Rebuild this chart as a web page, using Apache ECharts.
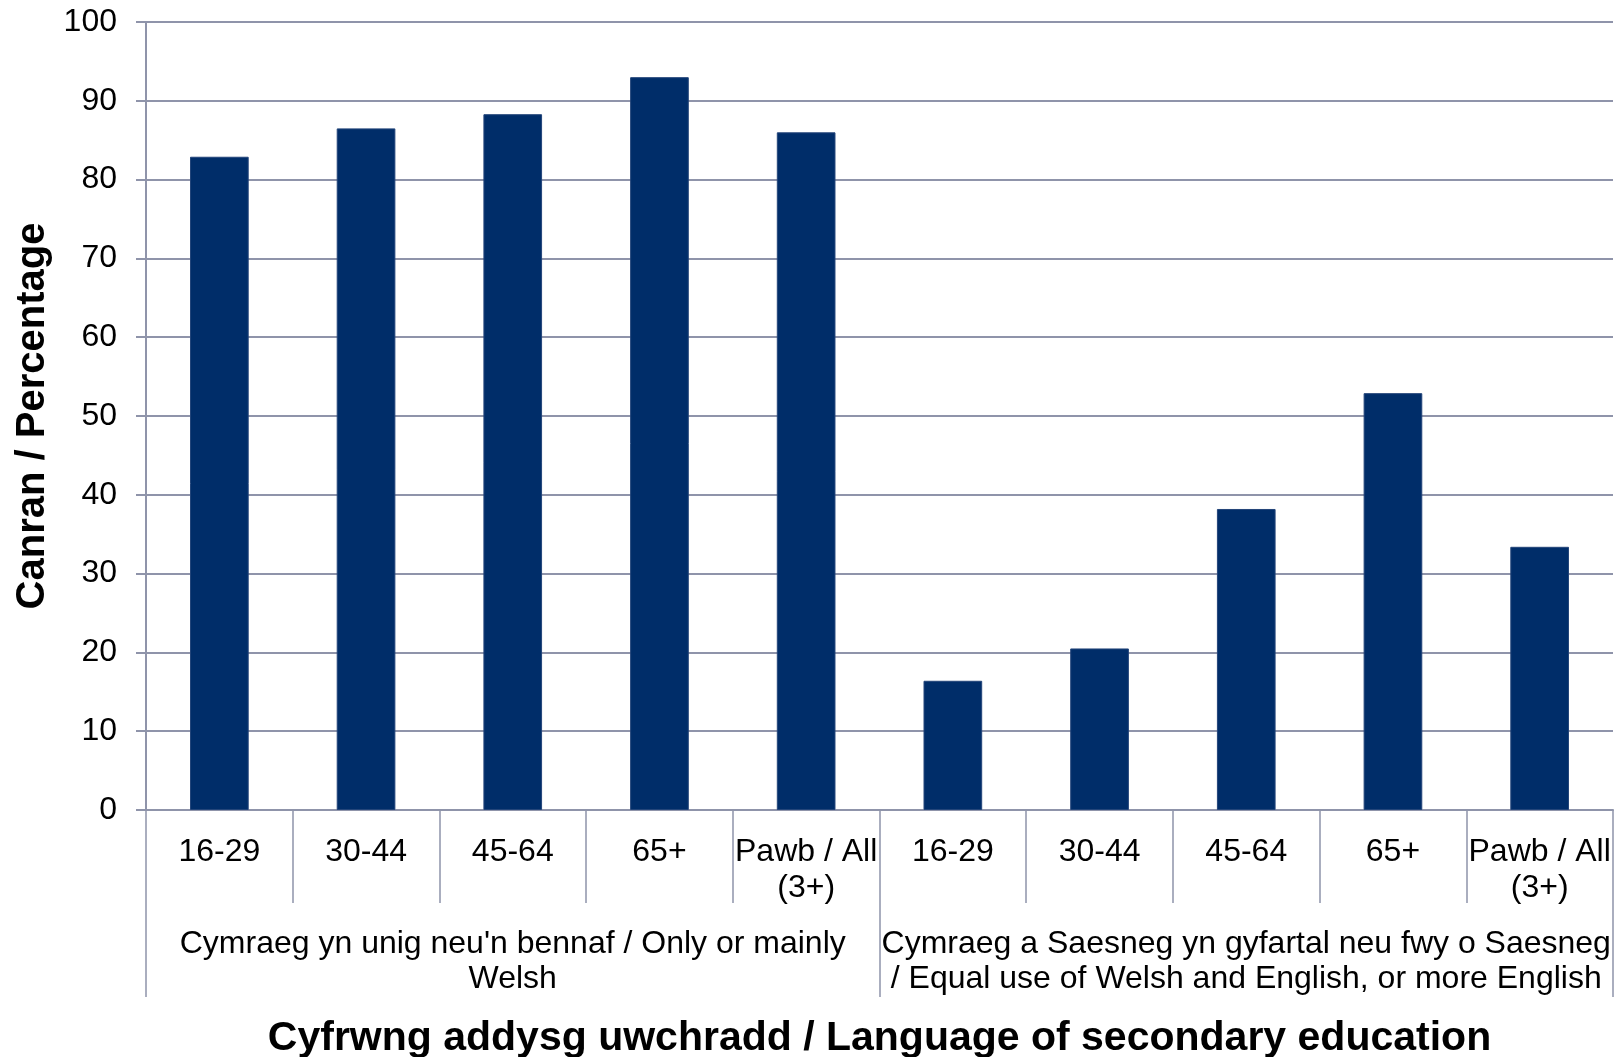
<!DOCTYPE html>
<html>
<head>
<meta charset="utf-8">
<script src="https://cdn.jsdelivr.net/npm/echarts@6/dist/echarts.min.js"></script>
<style>
  html, body { margin: 0; padding: 0; background: #ffffff; }
  #chart { width: 1614px; height: 1057px; }
</style>
</head>
<body>
<div id="chart"></div>
<script>
// Age bands, repeated for each language-of-education group
const ageBands = ['16-29', '30-44', '45-64', '65+', 'Pawb / All\n(3+)',
                  '16-29', '30-44', '45-64', '65+', 'Pawb / All\n(3+)'];
// Language-of-education groups (each spans five age bands)
const groups = [
  "Cymraeg yn unig neu'n bennaf / Only or mainly\nWelsh",
  'Cymraeg a Saesneg yn gyfartal neu fwy o Saesneg\n/ Equal use of Welsh and English, or more English'
];
// Percentage values, one per age band
const percentages = [82.9, 86.5, 88.3, 93.0, 86.0, 16.4, 20.5, 38.2, 52.9, 33.4];
// Value-axis range
const yMin = 0, yMax = 100, yStep = 10;

const font = "'Liberation Sans', Arial, sans-serif";
const lineGray = '#8f94aa';

const chart = echarts.init(document.getElementById('chart'));
chart.setOption({
  animation: false,
  grid: { left: 146, right: 1, top: 22, bottom: 247, containLabel: false, outerBoundsMode: 'none' },
  xAxis: [
    {
      type: 'category',
      data: ageBands,
      position: 'bottom',
      axisLine: { show: true, onZero: false, lineStyle: { color: lineGray, width: 2 } },
      axisTick: { show: true, alignWithLabel: false, interval: 0, length: 93,
                  lineStyle: { color: lineGray, width: 1.5 } },
      axisLabel: { interval: 0, margin: 24, color: '#000', fontSize: 32,
                   lineHeight: 36, fontFamily: font, align: 'center' },
      splitLine: { show: false }
    },
    {
      type: 'category',
      data: groups,
      position: 'bottom',
      axisLine: { show: false, onZero: false },
      axisTick: { show: true, interval: 0, length: 187,
                  lineStyle: { color: lineGray, width: 1.5 } },
      axisLabel: { interval: 0, margin: 117, color: '#000', fontSize: 32,
                   lineHeight: 35, fontFamily: font, align: 'center' },
      splitLine: { show: false },
      name: 'Cyfrwng addysg uwchradd / Language of secondary education',
      nameLocation: 'middle',
      nameGap: 208,
      nameTextStyle: { color: '#000', fontSize: 41, fontWeight: 'bold', fontFamily: font }
    }
  ],
  yAxis: {
    type: 'value',
    min: yMin,
    max: yMax,
    interval: yStep,
    axisLine: { show: true, lineStyle: { color: lineGray, width: 2 } },
    axisTick: { show: true, inside: false, length: 10, lineStyle: { color: lineGray, width: 2 } },
    axisLabel: { margin: 29, color: '#000', fontSize: 32, fontFamily: font },
    splitLine: { show: true, lineStyle: { color: lineGray, width: 2 } },
    name: 'Canran / Percentage',
    nameLocation: 'middle',
    nameRotate: 90,
    nameGap: 90,
    nameTextStyle: { color: '#000', fontSize: 40, fontWeight: 'bold', fontFamily: font }
  },
  series: [{
    type: 'bar',
    xAxisIndex: 0,
    data: percentages,
    barCategoryGap: '60%',
    itemStyle: { color: '#002d69', borderColor: '#23457a', borderWidth: 1 }
  }]
});
</script>
</body>
</html>
